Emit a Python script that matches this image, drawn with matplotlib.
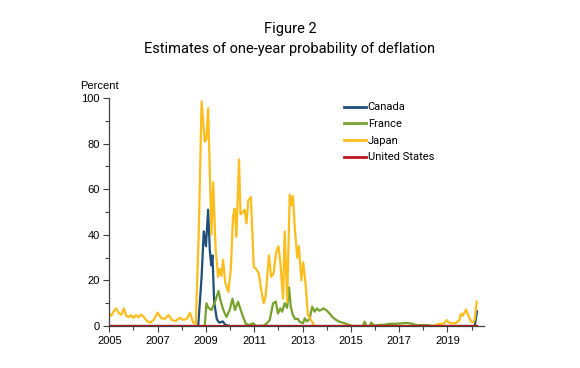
import matplotlib
matplotlib.use("Agg")
import matplotlib.pyplot as plt
from matplotlib.ticker import MultipleLocator

# --- data (fractional years) ---
japan_t = [2005.0, 2005.08, 2005.17, 2005.28, 2005.4, 2005.5, 2005.6, 2005.7, 2005.8, 2005.9,
           2006.0, 2006.1, 2006.2, 2006.3, 2006.4, 2006.55, 2006.7, 2006.85, 2007.0, 2007.15,
           2007.3, 2007.45, 2007.6, 2007.75, 2007.9, 2008.05, 2008.2, 2008.34, 2008.47, 2008.58,
           2008.7, 2008.82, 2008.95, 2009.02, 2009.09, 2009.23, 2009.3, 2009.4, 2009.5, 2009.57,
           2009.64, 2009.71, 2009.8, 2009.93, 2010.03, 2010.12, 2010.19, 2010.26, 2010.37, 2010.43,
           2010.53, 2010.6, 2010.68, 2010.75, 2010.86, 2010.98, 2011.08, 2011.19, 2011.3, 2011.39,
           2011.47, 2011.61, 2011.7, 2011.8, 2011.9, 2012.0, 2012.08, 2012.19, 2012.26, 2012.36,
           2012.47, 2012.53, 2012.6, 2012.68, 2012.78, 2012.85, 2012.95, 2013.03, 2013.12, 2013.22,
           2013.35, 2013.5, 2018.4, 2018.6, 2018.87, 2018.97, 2019.05, 2019.2, 2019.35, 2019.49,
           2019.56, 2019.63, 2019.77, 2019.85, 2019.98, 2020.06, 2020.13, 2020.21]
japan = [5.5, 4.5, 6.3, 7.7, 5.5, 5.0, 7.7, 4.4, 4.0, 4.8,
         3.5, 4.8, 3.8, 5.0, 4.4, 2.2, 1.5, 2.9, 5.9, 3.4,
         3.2, 4.8, 2.6, 2.2, 3.6, 2.8, 3.0, 5.8, 1.5, 1.0,
         40, 98.4, 80.8, 82, 95.5, 40, 63, 34, 21.6, 25,
         22, 29, 19, 15, 25, 48, 51.5, 39, 73, 49,
         50, 51, 45, 55, 56.6, 26, 25, 23, 15, 10,
         13, 31, 21.6, 23, 32, 35, 28, 12, 41.5, 10.5,
         57.6, 53, 57, 43, 30, 35, 20, 28, 19, 4.9,
         2.6, 0, 0, 0.8, 1.2, 2.6, 1.6, 1.2, 1.3, 2.6,
         5.4, 4.5, 7.2, 5.0, 1.9, 1.5, 3.0, 10.7]

canada_t = [2005.0, 2008.68, 2008.82, 2008.91, 2009.0, 2009.09, 2009.16, 2009.22, 2009.27, 2009.34,
            2009.45, 2009.55, 2009.7, 2009.8, 2010.0, 2016.4, 2016.55, 2016.7, 2016.8, 2020.13,
            2020.22]
canada = [0, 0, 21.6, 41.5, 35, 51, 33, 26.6, 31, 10.5,
          3, 1.5, 2, 0.5, 0, 0, 0.5, 0.5, 0, 0,
          6.5]

france_t = [2005.0, 2008.95, 2009.02, 2009.1, 2009.23, 2009.4, 2009.52, 2009.6, 2009.72, 2009.85,
            2009.98, 2010.1, 2010.2, 2010.33, 2010.44, 2010.54, 2010.65, 2010.8, 2010.95, 2011.09,
            2011.4, 2011.5, 2011.64, 2011.78, 2011.89, 2011.98, 2012.08, 2012.16, 2012.26, 2012.36,
            2012.44, 2012.51, 2012.6, 2012.7, 2012.8, 2012.88, 2013.02, 2013.09, 2013.18, 2013.29,
            2013.4, 2013.5, 2013.6, 2013.7, 2013.87, 2013.98, 2014.12, 2014.25, 2014.4, 2014.53,
            2014.75, 2014.95, 2015.05, 2015.5, 2015.57, 2015.65, 2015.78, 2015.84, 2015.95, 2016.2,
            2016.4, 2016.6, 2016.9, 2017.1, 2017.3, 2017.55, 2017.7, 2018.2, 2018.4, 2020.22]
france = [0, 0, 10, 8, 7, 11.4, 15.4, 11.4, 7, 4,
          7, 12, 7, 10.7, 7, 4, 1, 0.4, 1.2, 0,
          0.2, 1, 2.6, 10, 10.7, 5.5, 7.7, 6.3, 10, 8,
          17, 8.5, 4.8, 3, 3.2, 1.9, 1.2, 3.4, 2.0, 3.1,
          8.5, 6.3, 7.7, 6.7, 7.7, 7, 5.5, 3.8, 2.6, 1.9,
          1.2, 0.4, 0, 0, 1.9, 0, 0, 1.5, 0.3, 0.5,
          0.6, 1, 1, 1.2, 1.4, 1, 0.4, 0.4, 0, 0]

us_t = [2005.0, 2020.22]
us = [0, 0]

series = [
    ("Canada", canada_t, canada, "#1f4e79"),
    ("France", france_t, france, "#77a22b"),
    ("Japan", japan_t, japan, "#fdbd1c"),
    ("United States", us_t, us, "#c0161b"),
]
year_ticks = [2005, 2007, 2009, 2011, 2013, 2015, 2017, 2019]


def main() -> None:
    fig = plt.figure(figsize=(5.8, 3.68), dpi=100)
    ax = fig.add_axes([0.1885, 0.114, 0.6455, 0.62])

    for name, t, v, color in series:
        ax.plot(t, v, color=color, lw=1.6, label=name, solid_joinstyle="round")

    ax.set_xlim(2005, 2020.5)
    ax.set_ylim(0, 100)
    ax.set_xticks(year_ticks)
    ax.set_xticklabels([str(y) for y in year_ticks])
    ax.xaxis.set_minor_locator(MultipleLocator(1))
    ax.set_yticks(range(0, 101, 20))
    ax.yaxis.set_minor_locator(MultipleLocator(10))

    for side in ("top", "right"):
        ax.spines[side].set_visible(False)
    for side in ("left", "bottom"):
        ax.spines[side].set_color("#404040")
        ax.spines[side].set_linewidth(0.9)
    ax.tick_params(which="both", direction="out", color="#404040", width=0.8)
    ax.tick_params(which="major", length=4, labelsize=8, pad=3)
    ax.tick_params(which="minor", length=3)
    for lbl in ax.get_xticklabels() + ax.get_yticklabels():
        lbl.set_fontfamily("Liberation Sans")

    fig.text(0.138, 0.765, "Percent", fontsize=8, family="Liberation Sans", va="center")
    fig.text(0.5, 0.921, "Figure 2", fontsize=10.5, family="Roboto", ha="center", va="center")
    fig.text(0.5, 0.866, "Estimates of one-year probability of deflation", fontsize=10.5,
             family="Roboto", ha="center", va="center")

    leg = ax.legend(loc="upper left", bbox_to_anchor=(0.6, 1.024), frameon=False,
                    handlelength=2.0, handletextpad=0.15, labelspacing=0.6,
                    prop={"family": "Roboto", "size": 8})
    for line in leg.get_lines():
        line.set_linewidth(2.0)

    fig.savefig("out.png", dpi=100)


if __name__ == "__main__":
    main()
